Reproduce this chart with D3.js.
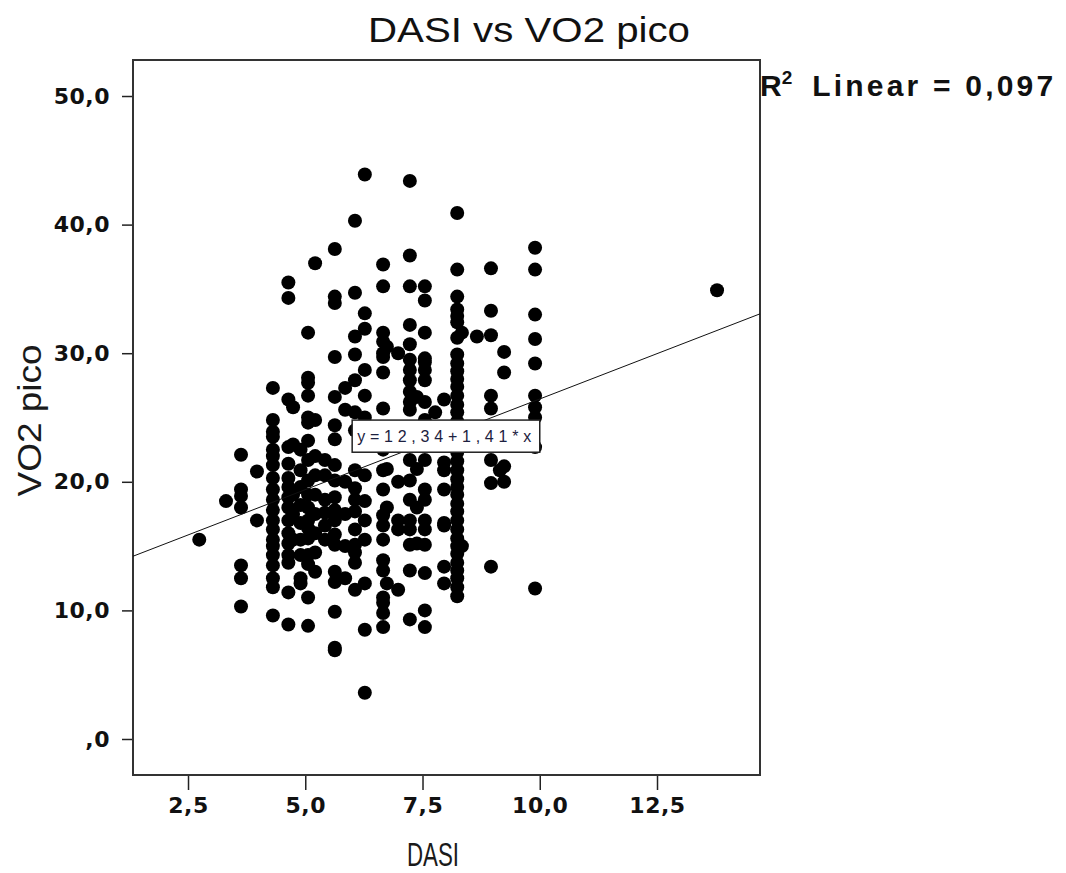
<!DOCTYPE html>
<html>
<head>
<meta charset="utf-8">
<script src="https://cdn.jsdelivr.net/npm/d3@7"></script>
<style>
  body { margin: 0; background: #fff; }
</style>
</head>
<body>
<script>
// DASI (METs) levels and the VO2 pico values
const dasiLevels = [2.74, 3.31, 3.63, 3.97, 4.31, 4.64, 4.74, 4.90, 5.06, 5.21, 5.42, 5.63, 5.85,
  6.06, 6.27, 6.66, 6.74, 6.98, 7.23, 7.38, 7.55, 7.77, 7.96, 8.24, 8.34, 8.66, 8.96, 9.15, 9.24, 9.90, 13.78];

const vo2ByLevel = [
  [15.5],
  [18.5],
  [22.1, 19.4, 18.9, 18.0, 13.5, 12.5, 10.3],
  [20.8, 17.0],
  [27.3, 24.8, 23.9, 23.5, 22.5, 22.0, 21.3, 20.3, 19.4, 18.6, 17.8, 17.0, 16.3, 15.5, 15.0, 14.3, 13.5, 12.5, 11.8, 9.6],
  [35.5, 34.3, 26.4, 22.7, 21.4, 20.3, 19.6, 18.8, 18.0, 17.0, 16.0, 15.2, 14.3, 13.7, 11.4, 8.9],
  [25.8, 22.9, 19.0, 17.5, 15.5],
  [22.5, 20.9, 19.6, 18.2, 16.8, 15.5, 14.3, 12.5, 12.1],
  [31.6, 28.1, 27.7, 26.7, 25.0, 24.6, 23.2, 21.7, 20.1, 19.0, 18.0, 17.0, 16.4, 15.6, 14.3, 13.6, 11.0, 8.8],
  [37.0, 24.8, 22.0, 20.5, 19.0, 17.5, 16.0, 14.5, 13.0],
  [21.7, 20.5, 18.6, 17.6, 16.6, 15.5],
  [38.1, 34.4, 33.9, 29.7, 26.6, 24.4, 23.3, 21.3, 20.1, 18.8, 17.8, 17.0, 15.9, 15.1, 13.0, 12.2, 9.9, 7.1, 6.9],
  [27.3, 25.6, 20.0, 17.5, 15.0, 12.5],
  [40.3, 34.7, 31.3, 29.9, 27.9, 25.4, 24.0, 20.9, 19.5, 18.6, 17.7, 16.3, 15.1, 14.5, 13.7, 11.6],
  [43.9, 33.1, 31.9, 28.7, 26.7, 25.0, 20.5, 18.5, 17.0, 15.5, 12.1, 8.5, 3.6],
  [36.9, 35.2, 31.6, 30.9, 30.0, 29.7, 28.5, 25.7, 24.0, 22.5, 20.9, 19.4, 17.4, 16.6, 15.5, 13.9, 13.1, 11.0, 10.6, 9.8, 8.7],
  [30.5, 21.0, 18.0, 12.1],
  [30.0, 20.0, 17.0, 16.3, 11.6],
  [43.4, 37.6, 35.2, 32.2, 30.7, 29.5, 28.7, 27.9, 27.0, 26.2, 25.6, 24.0, 21.7, 20.1, 18.6, 17.0, 16.3, 15.1, 13.1, 9.3],
  [26.6, 21.0, 18.0, 15.2],
  [35.2, 34.1, 31.6, 29.6, 29.3, 28.7, 27.9, 26.2, 24.8, 22.9, 21.7, 19.4, 18.6, 17.0, 16.3, 15.1, 12.9, 10.0, 8.7],
  [25.4],
  [26.4, 21.5, 20.9, 19.4, 16.8, 16.6, 13.4, 12.1],
  [40.9, 36.5, 34.4, 33.4, 32.9, 32.4, 31.2, 29.9, 29.2, 28.6, 28.0, 27.4, 26.7, 26.0, 25.4, 24.7, 24.1, 23.0,
   22.3, 21.6, 20.9, 20.2, 19.6, 19.0, 18.3, 17.7, 17.0, 16.3, 15.6, 15.0, 14.4, 13.7, 13.1, 12.5, 11.8, 11.1],
  [31.6, 15.0],
  [31.3],
  [36.6, 33.3, 31.4, 26.7, 25.7, 21.7, 19.9, 13.4],
  [20.9],
  [30.1, 28.5, 21.2, 20.0],
  [38.2, 36.5, 33.0, 31.1, 29.2, 26.7, 25.8, 25.0, 22.7, 11.7],
  [34.9]
];

const xTicks = [2.5, 5, 7.5, 10, 12.5];
const yTicks = [0, 10, 20, 30, 40, 50];
const fitIntercept = 12.34;
const fitSlope = 1.41;
const rSquared = 0.097;

const width = 1066, height = 873;

// flatten into points
const points = [];
dasiLevels.forEach((d, i) => vo2ByLevel[i].forEach(v => points.push({dasi: d, vo2: v})));

const x = d3.scaleLinear().domain([1.327, 14.696]).range([133, 760]);
const y = d3.scaleLinear().domain([-2.8, 52.8]).range([775, 60]);

// SPSS style comma decimals, "0,0" shown as ",0"
const fmt = v => {
  const s = d3.format(".1f")(v).replace(".", ",");
  return s === "0,0" ? ",0" : s;
};
function fmt2(v) { return d3.format(".2f")(v).replace(".", ","); }

const svg = d3.select("body").append("svg")
  .attr("width", width)
  .attr("height", height)
  .style("display", "block");

// title
svg.append("text")
  .attr("x", 529)
  .attr("y", 42)
  .attr("text-anchor", "middle")
  .attr("font-family", "Liberation Sans, Arial, sans-serif")
  .attr("font-size", 35)
  .attr("fill", "#111")
  .attr("textLength", 322)
  .attr("lengthAdjust", "spacingAndGlyphs")
  .text("DASI vs VO2 pico");

// **** axes *****************
const gx = svg.append("g")
  .attr("transform", `translate(0,${y.range()[0]})`)
  .call(d3.axisBottom(x).tickValues(xTicks).tickFormat(fmt).tickSize(15).tickPadding(7).tickSizeOuter(0));

const gy = svg.append("g")
  .attr("transform", `translate(${x.range()[0]},0)`)
  .call(d3.axisLeft(y).tickValues(yTicks).tickFormat(fmt).tickSize(11).tickPadding(12).tickSizeOuter(0));

[gx, gy].forEach(g => {
  g.select(".domain").remove();
  g.selectAll(".tick line").attr("stroke", "#222").attr("stroke-width", 1.5);
  g.selectAll(".tick text")
    .attr("font-family", "DejaVu Sans, Verdana, sans-serif")
    .attr("font-weight", "bold")
    .attr("font-size", 22)
    .attr("letter-spacing", 0.5)
    .attr("fill", "#111");
});

// frame
svg.append("rect")
  .attr("x", x.range()[0])
  .attr("y", y.range()[1])
  .attr("width", x.range()[1] - x.range()[0])
  .attr("height", y.range()[0] - y.range()[1])
  .attr("fill", "none")
  .attr("stroke", "#333")
  .attr("stroke-width", 2);

// axis titles
svg.append("text")
  .attr("transform", `translate(41,${(y(52.8) + y(-2.8)) / 2 + 3}) rotate(-90)`)
  .attr("text-anchor", "middle")
  .attr("font-family", "Liberation Sans, Arial, sans-serif")
  .attr("font-size", 34)
  .attr("fill", "#1a1a1a")
  .attr("textLength", 152)
  .attr("lengthAdjust", "spacingAndGlyphs")
  .text("VO2 pico");

svg.append("text")
  .attr("x", 433)
  .attr("y", 866)
  .attr("text-anchor", "middle")
  .attr("font-family", "Liberation Sans, Arial, sans-serif")
  .attr("font-size", 34)
  .attr("fill", "#1a1a1a")
  .attr("textLength", 52)
  .attr("lengthAdjust", "spacingAndGlyphs")
  .text("DASI");

// **** points *****************
svg.append("g")
  .selectAll("circle")
  .data(points)
  .join("circle")
  .attr("cx", d => x(d.dasi))
  .attr("cy", d => y(d.vo2))
  .attr("r", 7)
  .attr("fill", "#000");

// **** fit line *****************
const [x0, x1] = x.domain();
svg.append("line")
  .attr("x1", x(x0))
  .attr("y1", y(fitIntercept + fitSlope * x0))
  .attr("x2", x(x1))
  .attr("y2", y(fitIntercept + fitSlope * x1))
  .attr("stroke", "#111")
  .attr("stroke-width", 1);

// equation label box
const boxX0 = 6.0, boxX1 = 10.0, boxTop = 24.8, boxBottom = 22.3;
svg.append("rect")
  .attr("x", x(boxX0))
  .attr("y", y(boxTop))
  .attr("width", x(boxX1) - x(boxX0))
  .attr("height", y(boxBottom) - y(boxTop))
  .attr("fill", "#fff")
  .attr("stroke", "#222")
  .attr("stroke-width", 1.5);

svg.append("text")
  .attr("x", x(boxX0) + 5)
  .attr("y", (y(boxTop) + y(boxBottom)) / 2 + 6)
  .attr("font-family", "Liberation Sans, Arial, sans-serif")
  .attr("font-size", 16)
  .attr("fill", "#1c2140")
  .attr("textLength", 174)
  .attr("lengthAdjust", "spacing")
  .text(`y=${fmt2(fitIntercept)}+${fmt2(fitSlope)}*x`);

// R2 label
const r2 = svg.append("text")
  .attr("x", 760)
  .attr("y", 96)
  .attr("font-family", "Liberation Sans, Arial, sans-serif")
  .attr("font-weight", "bold")
  .attr("font-size", 30)
  .attr("fill", "#111");
r2.append("tspan").text("R");
r2.append("tspan").attr("dy", -12).attr("font-size", 19).text("2");
r2.append("tspan").attr("dy", 12).attr("dx", 20).attr("letter-spacing", 3.2)
  .text(`Linear = ${d3.format(".3f")(rSquared).replace(".", ",")}`);
</script>
</body>
</html>
